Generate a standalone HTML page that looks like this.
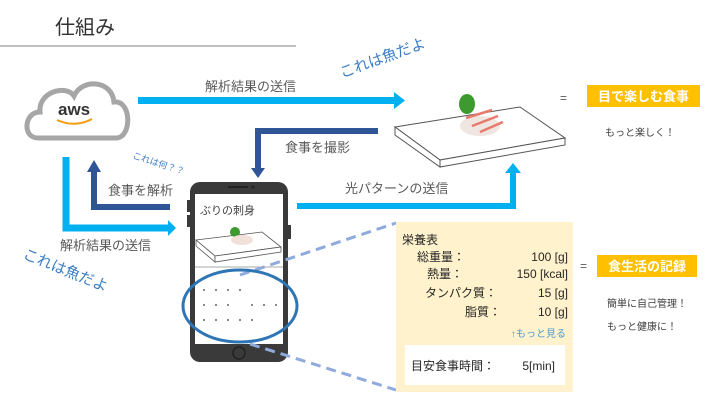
<!DOCTYPE html>
<html><head><meta charset="utf-8"><style>
html,body{margin:0;padding:0;background:#fff;}
svg{display:block;font-family:"Liberation Sans","Noto Sans CJK JP",sans-serif;}
</style></head><body>
<svg width="720" height="405" viewBox="0 0 720 405" xmlns="http://www.w3.org/2000/svg">
<rect width="720" height="405" fill="#fff"/>
<text x="55" y="34" font-size="20" fill="#333">仕組み</text>
<line x1="0" y1="46" x2="296" y2="46" stroke="#bfbfbf" stroke-width="2"/>
<text x="342" y="78" font-size="15" fill="#3a7cc4" transform="rotate(-20 342 78)">これは魚だよ</text>
<text x="22" y="258" font-size="15" fill="#3a7cc4" transform="rotate(22 22 258)">これは魚だよ</text>
<text x="132" y="158" font-size="9" fill="#3a7cc4" transform="rotate(18 132 158)">これは何？？</text>

<path d="M38,138 C22,138 24,112 40,112 C38,92 66,84 74,96 C82,78 112,80 114,102 C132,100 132,138 116,138 Z" fill="#fff" stroke="#a6a6a6" stroke-width="5"/>
<text x="58" y="115" font-size="17" font-weight="bold" fill="#333">aws</text>
<path d="M57,120 Q75,128 92,119" fill="none" stroke="#f39c12" stroke-width="2"/>

<rect x="138" y="97" width="258" height="7" fill="#00b0f0"/>
<polygon points="394,92 405,100.5 394,109" fill="#00b0f0"/>
<text x="205" y="91" font-size="13" fill="#595959">解析結果の送信</text>

<polyline points="378,131 258,131 258,170" fill="none" stroke="#2f5597" stroke-width="6"/>
<polygon points="251,168 265,168 258,178" fill="#2f5597"/>
<text x="285" y="152" font-size="13" fill="#595959">食事を撮影</text>

<polygon points="395,127 520,107 565,138 440,160" fill="#fff" stroke="#555" stroke-width="1"/>
<polygon points="395,127 440,160 440,167 395,135" fill="#fff" stroke="#555"/>
<polygon points="440,160 565,138 565,145 440,167" fill="#fff" stroke="#555"/>
<ellipse cx="467" cy="104" rx="8" ry="10" fill="#3c9a2e"/>
<ellipse cx="480" cy="126" rx="20" ry="10" fill="#efe6e2"/>
<path d="M466,118 L492,110 M472,126 L498,116 M480,132 L503,122" stroke="#e8796b" stroke-width="2.5"/>

<text x="560" y="102" font-size="12" fill="#595959">=</text>
<rect x="587" y="85" width="113" height="22" fill="#ffc000"/>
<text x="643.5" y="101" font-size="13" font-weight="bold" fill="#fff" text-anchor="middle">目で楽しむ食事</text>
<text x="605" y="136" font-size="10" fill="#404040">もっと楽しく！</text>

<polyline points="66,157 66,228 170,228" fill="none" stroke="#00b0f0" stroke-width="7"/>
<polygon points="168,220 176,228 168,236" fill="#00b0f0"/>
<text x="60" y="250" font-size="13" fill="#595959">解析結果の送信</text>

<polyline points="170,207 94,207 94,170" fill="none" stroke="#2f5597" stroke-width="6"/>
<polygon points="87,172 101,172 94,160" fill="#2f5597"/>
<text x="108" y="195" font-size="13" fill="#595959">食事を解析</text>

<rect x="190" y="182" width="98" height="180" rx="10" fill="#3a3a3a"/>
<rect x="187" y="200" width="4" height="12" fill="#3a3a3a"/>
<rect x="187" y="215" width="4" height="12" fill="#3a3a3a"/>
<rect x="287" y="225" width="4" height="14" fill="#3a3a3a"/>
<rect x="228" y="186" width="20" height="2" fill="#222"/>
<circle cx="253" cy="187" r="1.5" fill="#222"/>
<rect x="195" y="194" width="88" height="150" fill="#fff"/>
<circle cx="239" cy="353" r="6" fill="none" stroke="#222" stroke-width="1.5"/>
<text x="200" y="214" font-size="11" fill="#404040">ぶりの刺身</text>
<polygon points="196,240 262,232 281,247 215,256" fill="#fff" stroke="#555" stroke-width="0.8"/>
<polygon points="196,240 215,256 215,262 196,246" fill="#fff" stroke="#555" stroke-width="0.8"/>
<polygon points="215,256 281,247 281,252 215,262" fill="#fff" stroke="#555" stroke-width="0.8"/>
<ellipse cx="235" cy="232" rx="5" ry="5" fill="#3c9a2e"/>
<ellipse cx="242" cy="240" rx="11" ry="5" fill="#f2e0da"/>
<line x1="195" y1="267" x2="283" y2="267" stroke="#aaa" stroke-width="1"/>
<g fill="#333">
<circle cx="204" cy="290" r="0.9"/><circle cx="216" cy="290" r="0.9"/><circle cx="228" cy="290" r="0.9"/><circle cx="240" cy="290" r="0.9"/>
<circle cx="204" cy="305" r="0.9"/><circle cx="216" cy="305" r="0.9"/><circle cx="228" cy="305" r="0.9"/><circle cx="252" cy="305" r="0.9"/><circle cx="264" cy="305" r="0.9"/><circle cx="276" cy="305" r="0.9"/>
<circle cx="204" cy="320" r="0.9"/><circle cx="216" cy="320" r="0.9"/><circle cx="228" cy="320" r="0.9"/><circle cx="240" cy="320" r="0.9"/><circle cx="252" cy="320" r="0.9"/>
</g>

<polyline points="297,206 513,206 513,172" fill="none" stroke="#00b0f0" stroke-width="6"/>
<polygon points="505,173 521,173 513,163" fill="#00b0f0"/>
<text x="345" y="193" font-size="13" fill="#595959">光パターンの送信</text>

<line x1="240" y1="275" x2="396" y2="223" stroke="#8faadc" stroke-width="3" stroke-dasharray="10,6"/>
<line x1="250" y1="344" x2="396" y2="390" stroke="#8faadc" stroke-width="3" stroke-dasharray="10,6"/>

<rect x="396" y="222" width="177" height="170" fill="#fff2cc"/>
<rect x="405" y="345" width="160" height="40" fill="#fff"/>
<g font-size="12" fill="#262626">
<text x="402" y="244">栄養表</text>
<text x="417" y="261">総重量：</text><text x="568" y="261" text-anchor="end">100 [g]</text>
<text x="427" y="278">熱量：</text><text x="568" y="278" text-anchor="end">150 [kcal]</text>
<text x="425" y="297">タンパク質：</text><text x="568" y="297" text-anchor="end">15 [g]</text>
<text x="465" y="316">脂質：</text><text x="568" y="316" text-anchor="end">10 [g]</text>
<text x="411" y="370">目安食事時間：</text><text x="555" y="370" text-anchor="end">5[min]</text>
</g>
<text x="566" y="337" font-size="10" fill="#4a9ad6" text-anchor="end">↑もっと見る</text>

<ellipse cx="240" cy="306" rx="57" ry="36" fill="none" stroke="#2e75b6" stroke-width="3"/>

<text x="580" y="270" font-size="12" fill="#595959">=</text>
<rect x="597" y="255" width="100" height="22" fill="#ffc000"/>
<text x="647" y="271" font-size="13" font-weight="bold" fill="#fff" text-anchor="middle">食生活の記録</text>
<text x="607" y="307" font-size="10" fill="#404040">簡単に自己管理！</text>
<text x="607" y="330" font-size="10" fill="#404040">もっと健康に！</text>
</svg>
</body></html>
